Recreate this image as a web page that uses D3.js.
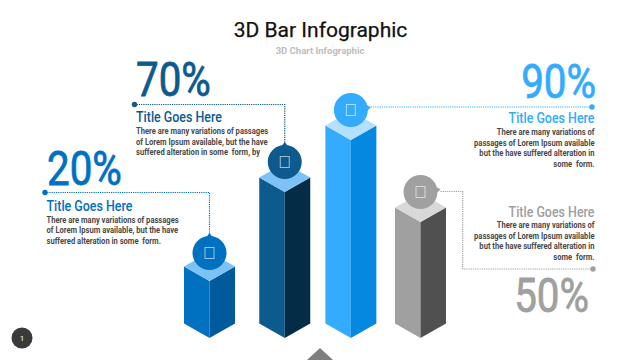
<!DOCTYPE html>
<html lang="en">
<head>
<meta charset="UTF-8"/>
<title>3D Bar Infographic</title>
<script src="https://d3js.org/d3.v7.min.js"></script>
<style>
    html, body { margin: 0; padding: 0; background: #fff; }
    svg { display: block; }
    text { font-family: Roboto, sans-serif; white-space: pre; }
</style>
</head>
<body>
<div id="chart"></div>
<script>
    // data, the drawn heights do not follow the printed percents exactly
    var percentLabels = ["20%", "70%", "90%", "50%"];
    var barHeights = [28.5, 73, 99, 58];
    var barSlots = [0, 1.07, 2.01, 3];
    var cardTitles = ["Title Goes Here", "Title Goes Here", "Title Goes Here", "Title Goes Here"];
    var cardLines = [
        ["There are many variations of passages", "of Lorem Ipsum available, but the have", "suffered alteration in some  form."],
        ["There are many variations of passages", "of Lorem Ipsum available, but the have", "suffered alteration in some  form, by"],
        ["There are many variations of", "passages of Lorem Ipsum available", "but the have suffered alteration in", "some  form."],
        ["There are many variations of", "passages of Lorem Ipsum available", "but the have suffered alteration in", "some  form."]
    ];

    // colours for each bar
    var leftColors = ["#0070c0", "#0d5a8f", "#33abff", "#a0a0a0"];
    var rightColors = ["#005a9c", "#052c46", "#0588e0", "#505050"];
    var topColors = ["#7cc2f6", "#7cc2f6", "#b4e0ff", "#d9d9d9"];
    var accentColors = ["#0070c0", "#0d5a8f", "#33abff", "#a0a0a0"];

    var width = 640;
    var height = 360;
    var halfW = 25.5;   // half width of a column
    var skew = 14.5;    // depth of the isometric top
    var bubbleR = 17;
    var bubbleLift = [28, 30, 30, 30];

    var xScale = d3.scaleLinear().domain([0, 3]).range([209.5, 420.5]);
    var yScale = d3.scaleLinear().domain([0, 100]).range([338, 138]);

    var svg = d3.select("#chart").append("svg").attr("width", width).attr("height", height);

    // heading
    svg.append("text").attr("x", 320.5).attr("y", 37).attr("text-anchor", "middle")
        .attr("font-size", 21).attr("fill", "#111").attr("stroke", "#111").attr("stroke-width", 0.25)
        .text("3D Bar Infographic");
    svg.append("text").attr("x", 320).attr("y", 54).attr("text-anchor", "middle")
        .attr("font-size", 9.5).attr("font-weight", 700).attr("fill", "#bdbdbd").text("3D Chart Infographic");

    // bars
    var bars = svg.append("g").selectAll("g").data(barHeights).enter().append("g");

    function pts(list) {
        return list.map(function (p) { return p.join(","); }).join(" ");
    }

    bars.append("polygon").attr("fill", function (d, i) { return leftColors[i]; })
        .attr("points", function (d, i) {
            var cx = xScale(barSlots[i]), t = yScale(d), b = yScale(0);
            return pts([[cx - halfW, t - skew], [cx, t], [cx, b], [cx - halfW, b - skew]]);
        });
    bars.append("polygon").attr("fill", function (d, i) { return rightColors[i]; })
        .attr("points", function (d, i) {
            var cx = xScale(barSlots[i]), t = yScale(d), b = yScale(0);
            return pts([[cx + halfW, t - skew], [cx, t], [cx, b], [cx + halfW, b - skew]]);
        });
    bars.append("polygon").attr("fill", function (d, i) { return topColors[i]; })
        .attr("points", function (d, i) {
            var cx = xScale(barSlots[i]), t = yScale(d);
            return pts([[cx - halfW, t - skew], [cx, t], [cx + halfW, t - skew], [cx, t - 2 * skew]]);
        });

    // bubbles sit above the top face, the pointer shows where the leader leaves
    var pointerDir = ["up", "up", "right", "right"];
    bars.append("circle")
        .attr("cx", function (d, i) { return xScale(barSlots[i]); })
        .attr("cy", function (d, i) { return yScale(d) - bubbleLift[i]; })
        .attr("r", bubbleR)
        .attr("fill", function (d, i) { return accentColors[i]; });
    bars.append("polygon").attr("fill", function (d, i) { return accentColors[i]; })
        .attr("points", function (d, i) {
            var cx = xScale(barSlots[i]), cy = yScale(d) - bubbleLift[i];
            if (pointerDir[i] === "up") {
                return pts([[cx - 3, cy - bubbleR + 1], [cx, cy - bubbleR - 3], [cx + 3, cy - bubbleR + 1]]);
            }
            return pts([[cx + bubbleR - 1, cy - 5], [cx + bubbleR + 3, cy - 2.5], [cx + bubbleR - 1, cy + 1]]);
        });
    // missing icon glyph box
    bars.append("rect")
        .attr("x", function (d, i) { return xScale(barSlots[i]) - 4.5; })
        .attr("y", function (d, i) { return yScale(d) - bubbleLift[i] - 5.5; })
        .attr("width", 9).attr("height", 11)
        .attr("fill", "none").attr("stroke", "#fff").attr("stroke-opacity", 0.6);

    // leaders, from the bubble out to the small dot at the card
    var leaderPaths = [
        function (cx, cy) { return [[45, 192.5], [cx, 192.5], [cx, cy - bubbleR - 2]]; },
        function (cx, cy) { return [[134.5, 104.5], [cx, 104.5], [cx, cy - bubbleR - 2]]; },
        function (cx, cy) { return [[592, 107], [cx + bubbleR + 2, 107]]; },
        function (cx, cy) { return [[593, 269], [462.7, 269], [462.7, cy - 0.5], [cx + bubbleR + 2, cy - 0.5]]; }
    ];
    var line = d3.line();
    barHeights.forEach(function (d, i) {
        var cx = xScale(barSlots[i]), cy = yScale(d) - bubbleLift[i];
        var path = leaderPaths[i](cx, cy);
        svg.append("path").attr("d", line(path)).attr("fill", "none")
            .attr("stroke", accentColors[i]).attr("stroke-width", 1.2).attr("stroke-dasharray", "1.2 1");
        svg.append("circle").attr("cx", path[0][0]).attr("cy", path[0][1]).attr("r", 2.7).attr("fill", accentColors[i]);
    });

    // text cards
    var cardX = [46.5, 136, 594.5, 594.5];
    var percentBase = [185, 96, 98, 311.5];
    var percentX = [47, 136, 596, 589];
    var titleBase = [210.7, 121.6, 122.7, 216.7];
    var bodyBase = [222.7, 134, 135, 228];

    function squeezed(x, y, anchor, size, weight, fill, sx, str) {
        return svg.append("text")
            .attr("transform", "translate(" + x + "," + y + ") scale(" + sx + ",1)")
            .attr("text-anchor", anchor).attr("font-size", size).attr("font-weight", weight)
            .attr("fill", fill).text(str);
    }

    percentLabels.forEach(function (label, i) {
        var anchor = i < 2 ? "start" : "end";
        squeezed(percentX[i], percentBase[i], anchor, 48, 400, accentColors[i], 0.84, label)
            .attr("stroke", accentColors[i]).attr("stroke-width", 0.8);
        squeezed(cardX[i], titleBase[i], anchor, 15, 500, accentColors[i], 0.83, cardTitles[i]);
        cardLines[i].forEach(function (str, j) {
            squeezed(cardX[i], bodyBase[i] + j * 10.5, anchor, 9.5, 700, "#4a4a4a", 0.8, str);
        });
    });

    // bottom marker and page number
    svg.append("polygon").attr("points", pts([[320, 348], [307, 360], [333, 360]])).attr("fill", "#7f7f7f");
    svg.append("circle").attr("cx", 22).attr("cy", 338).attr("r", 10.5).attr("fill", "#3a3a3a");
    svg.append("text").attr("x", 22).attr("y", 341).attr("text-anchor", "middle")
        .attr("font-size", 8).attr("fill", "#fff").text("1");
</script>
</body>
</html>
